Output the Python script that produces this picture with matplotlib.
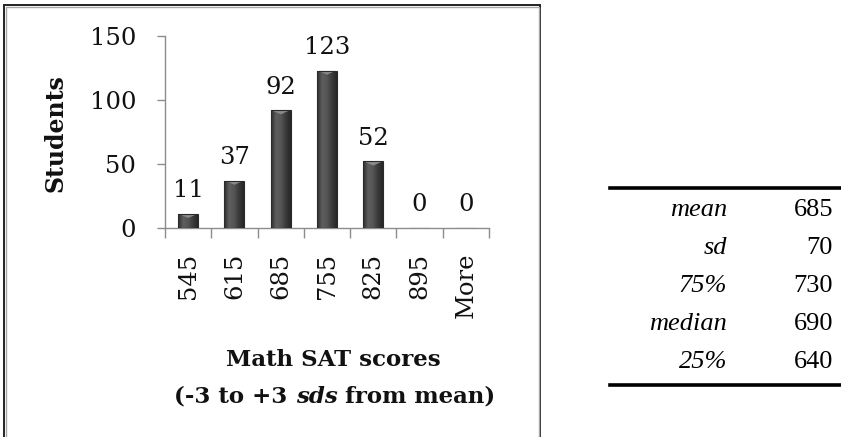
import numpy as np
import matplotlib
matplotlib.use("Agg")
import matplotlib.pyplot as plt
from matplotlib.colors import LinearSegmentedColormap
from matplotlib.patches import Rectangle, Polygon
from matplotlib.lines import Line2D

# histogram of math SAT scores
bins = ["545", "615", "685", "755", "825", "895", "More"]
students = [11, 37, 92, 123, 52, 0, 0]

# summary table
stat_names = ["mean", "sd", "75%", "median", "25%"]
stat_values = [685, 70, 730, 690, 640]

W, H = 841, 437
fig = plt.figure(figsize=(W / 100, H / 100), dpi=100)

def fx(px):
    return px / W

def fy(py):
    return 1 - py / H

# chart frame (double border like a pasted picture)
fig.add_artist(Rectangle((fx(3.5), fy(470)), fx(540 - 3.5), (470 - 4.5) / H,
                         transform=fig.transFigure, fill=False, edgecolor="#222222", lw=1.4))
fig.add_artist(Rectangle((fx(5.5), fy(470)), fx(538.5 - 5.5), (470 - 6.5) / H,
                         transform=fig.transFigure, fill=False, edgecolor="#a8a8a8", lw=1.0))

ax = fig.add_axes([fx(165), fy(228), fx(489 - 165), (228 - 36) / H])
x = np.arange(len(bins))
bars = ax.bar(x, students, width=0.43, color="#4a4a4a", edgecolor="#2a2a2a", lw=0.8, zorder=2)

# shaded cylinder look for each bar
shade = LinearSegmentedColormap.from_list("shade", ["#2c2c2c", "#5e5e5e", "#555555", "#3a3a3a", "#262626"])
grad = np.linspace(0, 1, 64).reshape(1, -1)
for b in bars:
    if b.get_height() <= 0:
        continue
    x0, w, h = b.get_x(), b.get_width(), b.get_height()
    im = ax.imshow(grad, extent=[x0, x0 + w, 0, h], aspect="auto", cmap=shade, zorder=3)
    im.set_clip_path(b)
    tip = 3.2
    ax.add_patch(Polygon([[x0 + w * 0.08, h - 0.3], [x0 + w * 0.92, h - 0.3], [x0 + w / 2, h - tip]],
                         closed=True, facecolor="#8a8a8a", edgecolor="none", zorder=4))
    b.set_zorder(5)
    b.set_facecolor("none")

for xi, v in zip(x, students):
    ax.annotate(str(v), (xi, v), xytext=(0, 12), textcoords="offset points",
                ha="center", va="baseline", fontsize=17.5, family="DejaVu Serif", color="#111111")

ax.set_xlim(-0.5, len(bins) - 0.5)
ax.set_ylim(0, 150)
ax.set_yticks([0, 50, 100, 150])
ax.set_xticks(np.arange(len(bins) + 1) - 0.5)
ax.set_xticklabels([])
ax.set_xticks(x, minor=True)
ax.set_xticklabels(bins, minor=True, rotation=90)

for s in ["top", "right"]:
    ax.spines[s].set_visible(False)
for s in ["left", "bottom"]:
    ax.spines[s].set_color("#8c8c8c")
    ax.spines[s].set_linewidth(1.0)

ax.tick_params(axis="y", length=5.8, width=1.0, color="#8c8c8c", pad=15, labelsize=17.5)
ax.tick_params(axis="x", which="major", length=7, width=1.0, color="#8c8c8c", direction="out")
ax.tick_params(axis="x", which="minor", length=0, pad=18, labelsize=17.5)
for lbl in ax.get_yticklabels() + ax.get_xticklabels(minor=True):
    lbl.set_family("DejaVu Serif")
    lbl.set_color("#111111")

title_kw = dict(fontsize=16.5, fontweight="bold", family="DejaVu Serif", color="#111111")
fig.text(fx(55), fy(133), "Students", rotation=90, ha="center", va="center",
         fontsize=17, fontweight="bold", family="DejaVu Serif", color="#111111")
fig.text(fx(333), fy(360), "Math SAT scores", ha="center", va="center", **title_kw)

# second line of the x title, with "sds" in italics
pieces = [("(-3 to +3 ", "normal"), ("sds", "italic"), (" from mean)", "normal")]
renderer = fig.canvas.get_renderer()
parts = [fig.text(0, fy(397), t, ha="left", va="center", style=st, **title_kw) for t, st in pieces]
widths = [p.get_window_extent(renderer).width for p in parts]
left = 335 - sum(widths) / 2
for p, wd in zip(parts, widths):
    p.set_x(fx(left))
    left += wd

# statistics table
row_y = [210, 248, 286, 324, 362]
serif = ["Liberation Serif", "DejaVu Serif"]
for name, val, ry in zip(stat_names, stat_values, row_y):
    fig.text(fx(727), fy(ry), name, ha="right", va="center", fontsize=19,
             family=serif, style="italic", color="black")
    fig.text(fx(833), fy(ry), str(val), ha="right", va="center", fontsize=19,
             family=serif, color="black")
for ly in [188, 385]:
    fig.add_artist(Line2D([fx(610), 1.0], [fy(ly), fy(ly)], transform=fig.transFigure,
                          color="black", lw=2.6))

fig.savefig("out.png", dpi=100)
